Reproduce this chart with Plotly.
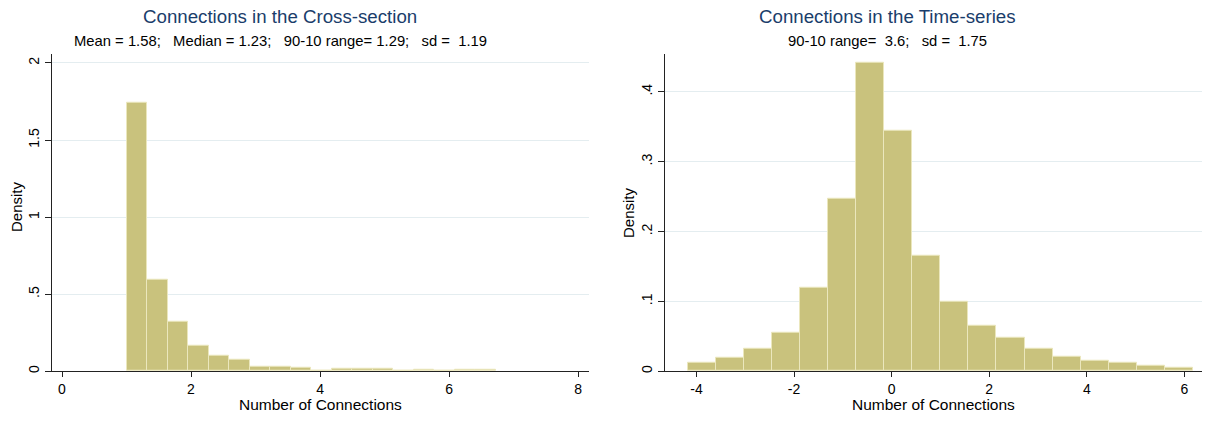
import numpy as np
import plotly.graph_objects as go

W, H = 1206, 421

# ---------------- data ----------------
left_title = "Connections in the Cross-section"
left_subtitle = "Mean = 1.58;   Median = 1.23;   90-10 range= 1.29;   sd =  1.19"
left_bin_start = 1.0
left_bin_width = 0.318
left_density = [1.744, 0.594, 0.320, 0.163, 0.101, 0.073, 0.030, 0.030, 0.024,
                0.005, 0.017, 0.017, 0.013, 0.0, 0.010, 0.0, 0.008, 0.008]
left_yticks = [0, 0.5, 1, 1.5, 2]
left_yticklabels = ["0", ".5", "1", "1.5", "2"]
left_xticks = [0, 2, 4, 6, 8]
left_xticklabels = ["0", "2", "4", "6", "8"]

right_title = "Connections in the Time-series"
right_subtitle = "90-10 range=  3.6;   sd =  1.75"
right_bin_start = -4.17
right_bin_width = 0.5744
right_density = [0.0118, 0.0199, 0.0322, 0.055, 0.120, 0.247, 0.4417, 0.3445, 0.166,
                 0.0996, 0.0655, 0.0474, 0.0317, 0.0213, 0.0157, 0.0118, 0.0085, 0.0057]
right_yticks = [0, 0.1, 0.2, 0.3, 0.4]
right_yticklabels = ["0", ".1", ".2", ".3", ".4"]
right_xticks = [-4, -2, 0, 2, 4, 6]
right_xticklabels = ["-4", "-2", "0", "2", "4", "6"]

x_title = "Number of Connections"
y_title = "Density"

# ---------------- style ----------------
BAR = "#c9c27d"
BAR_LINE = "#ebe7bd"
GRID = "#e4edf0"
AXIS = "#222222"
TITLE_COLOR = "#1a3d6b"
FONT = "Liberation Sans, Arial, sans-serif"


def px(x):
    return x / W


def py(y):
    return 1 - y / H


def centers(start, width, n):
    return start + width * (np.arange(n) + 0.5)


fig = go.Figure()

fig.add_trace(go.Bar(
    x=centers(left_bin_start, left_bin_width, len(left_density)),
    y=left_density, width=left_bin_width,
    marker=dict(color=BAR, line=dict(color=BAR_LINE, width=1)),
    xaxis="x", yaxis="y", showlegend=False, hoverinfo="x+y"))

fig.add_trace(go.Bar(
    x=centers(right_bin_start, right_bin_width, len(right_density)),
    y=right_density, width=right_bin_width,
    marker=dict(color=BAR, line=dict(color=BAR_LINE, width=1)),
    xaxis="x2", yaxis="y2", showlegend=False, hoverinfo="x+y"))

y_dom = [py(373), py(54)]

common_x = dict(showline=True, linecolor=AXIS, linewidth=1, ticks="outside",
                ticklen=5, tickcolor=AXIS, showgrid=False, zeroline=False,
                tickfont=dict(size=14, color="#000", family=FONT))
common_y = dict(showline=True, linecolor=AXIS, linewidth=1, ticks="outside",
                ticklen=6, tickcolor=AXIS, showgrid=True, gridcolor=GRID,
                gridwidth=1, zeroline=False, tickangle=-90,
                tickfont=dict(size=14, color="#000", family=FONT))

fig.update_layout(
    width=W, height=H,
    margin=dict(l=0, r=0, t=0, b=0),
    paper_bgcolor="white", plot_bgcolor="white",
    bargap=0,
    font=dict(family=FONT, color="#000"),
    xaxis=dict(domain=[px(52), px(589)], range=[-0.155, 8.17],
               tickvals=left_xticks, ticktext=left_xticklabels, anchor="y", **common_x),
    yaxis=dict(domain=y_dom, range=[0, 2.06], tickvals=left_yticks,
               ticktext=left_yticklabels, anchor="x", **common_y),
    xaxis2=dict(domain=[px(665), px(1202)], range=[-4.645, 6.36],
                tickvals=right_xticks, ticktext=right_xticklabels, anchor="y2", **common_x),
    yaxis2=dict(domain=y_dom, range=[0, 0.4545], tickvals=right_yticks,
                ticktext=right_yticklabels, anchor="x2", **common_y),
)

nb = lambda s: s.replace(" ", "\u00a0")

annotations = [
    dict(text=left_title, x=px(280), y=py(17), font=dict(size=18.7, color=TITLE_COLOR)),
    dict(text=nb(left_subtitle), x=px(280), y=py(41), font=dict(size=14.8, color="#000")),
    dict(text=right_title, x=px(887.5), y=py(17), font=dict(size=18.7, color=TITLE_COLOR)),
    dict(text=nb(right_subtitle), x=px(887.5), y=py(41), font=dict(size=14.8, color="#000")),
    dict(text=x_title, x=px(320), y=py(406), font=dict(size=15.5, color="#000")),
    dict(text=x_title, x=px(933), y=py(406), font=dict(size=15.5, color="#000")),
    dict(text=y_title, x=px(16), y=py(208), textangle=-90, font=dict(size=15, color="#000")),
    dict(text=y_title, x=px(629), y=py(214), textangle=-90, font=dict(size=15, color="#000")),
]
for a in annotations:
    a.update(xref="paper", yref="paper", showarrow=False, xanchor="center", yanchor="middle")
    a["font"]["family"] = FONT
fig.update_layout(annotations=annotations)

fig.write_html("out.html", config={"displayModeBar": False},
               post_script="document.body.style.margin='0';document.body.style.padding='0';")
